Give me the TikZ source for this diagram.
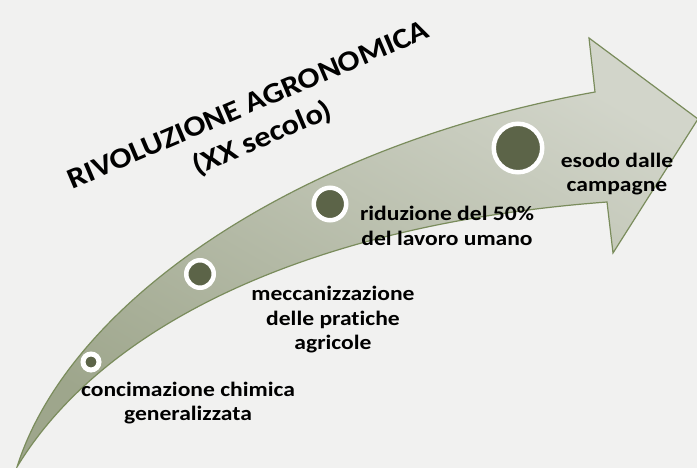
\documentclass[tikz,border=0pt]{standalone}
\usepackage{fontspec}
\usepackage{graphicx}
\setmainfont{Carlito}[Ligatures=NoCommon]

\definecolor{bggray}{RGB}{241,241,240}
\definecolor{arrowlight}{RGB}{210,213,202}
\definecolor{arrowdark}{RGB}{158,166,140}
\definecolor{arrowedge}{RGB}{122,140,92}
\definecolor{dotgreen}{RGB}{92,100,72}

\tikzset{every picture/.style={line width=0.75pt}}
\tikzset{
  dot/.style={circle, draw=white, line width=4.5pt, fill=dotgreen, inner sep=0pt, outer sep=0pt},
  lab/.style={align=center, inner sep=0pt, xscale=1.15, font=\bfseries\fontsize{20.5}{24.5}\selectfont},
  headline/.style={inner sep=0pt, font=\bfseries\fontsize{29}{36}\selectfont}
}

\begin{document}
\begin{tikzpicture}[x=1pt,y=1pt,yscale=-1]
	%set diagram left start at 0, and has height of 468
	\useasboundingbox (0,0) rectangle (697,468);
	\fill [bggray] (0,0) rectangle (697,468);

	%Curved Arrow
	\draw [draw=arrowedge, line width=1.2pt, top color=arrowlight, bottom color=arrowdark, shading angle=-30]
	  (17,467) .. controls (70,300) and (300,145) .. (595,92) -- (589,38) -- (698,119) -- (613,253) -- (607,202)
	  .. controls (300,225) and (100,330) .. (17,467) -- cycle ;

	% Dots
	\node [dot, line width=5pt, minimum size=16pt] (dot1) at (91,362) {};
	\node [dot, minimum size=27.5pt] (dot2) at (200,274) {};
	\node [dot, minimum size=32.5pt] (dot3) at (330,204) {};
	\node [dot, minimum size=48.5pt] (dot4) at (518,148) {};

	% Text Node
	\node [headline] (title) at (256,123) {\rotatebox{23}{\scalebox{1.12}[1]{\begin{tabular}{@{}c@{}}RIVOLUZIONE AGRONOMICA\\(XX secolo)\end{tabular}}}};
	% Text Node
	\node [lab] (lab1) at (188,403) {concimazione chimica\\generalizzata};
	% Text Node
	\node [lab] (lab2) at (333,320) {meccanizzazione\\delle pratiche\\agricole};
	% Text Node
	\node [lab] (lab3) at (447,226) {riduzione del 50\%\\del lavoro umano};
	% Text Node
	\node [lab] (lab4) at (617,174) {esodo dalle\\campagne};

\end{tikzpicture}
\end{document}
